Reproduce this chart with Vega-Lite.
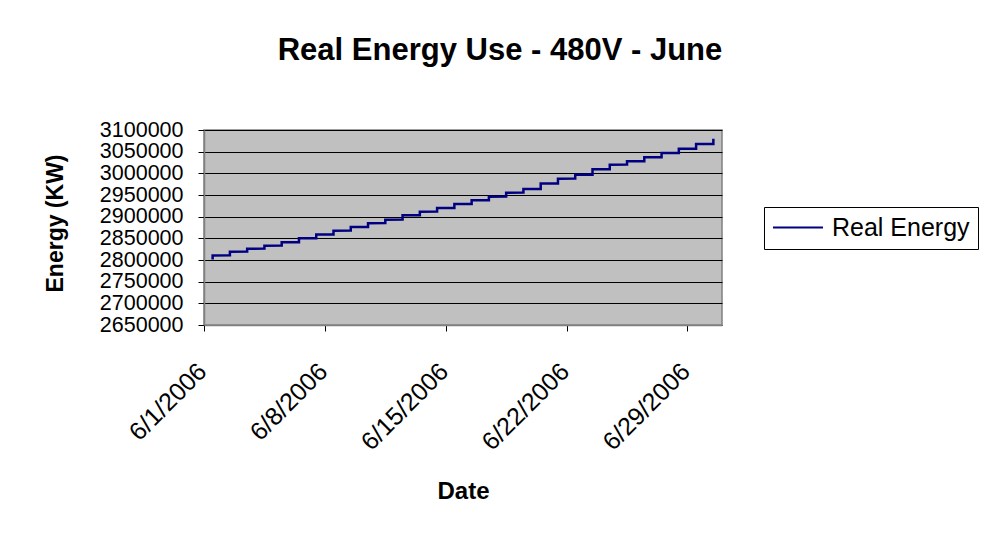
{
  "$schema": "https://vega.github.io/schema/vega-lite/v6.json",
  "width": 518,
  "height": 195,
  "autosize": {"type": "none"},
  "padding": {"left": 204, "top": 130, "right": 278, "bottom": 221},
  "background": "white",
  "title": {
    "text": "Real Energy Use - 480V - June",
    "frame": "group",
    "anchor": "middle",
    "dx": 37,
    "offset": 28,
    "baseline": "alphabetic",
    "font": "Liberation Sans",
    "fontSize": 31,
    "fontWeight": "bold",
    "color": "black"
  },
  "data": {
    "values": [
      {"date": "2006-06-01", "energy": 2801400},
      {"date": "2006-06-01", "energy": 2810600},
      {"date": "2006-06-02", "energy": 2810800},
      {"date": "2006-06-02", "energy": 2819200},
      {"date": "2006-06-03", "energy": 2819400},
      {"date": "2006-06-03", "energy": 2826100},
      {"date": "2006-06-04", "energy": 2826300},
      {"date": "2006-06-04", "energy": 2833000},
      {"date": "2006-06-05", "energy": 2833200},
      {"date": "2006-06-05", "energy": 2840800},
      {"date": "2006-06-06", "energy": 2841000},
      {"date": "2006-06-06", "energy": 2850100},
      {"date": "2006-06-07", "energy": 2850300},
      {"date": "2006-06-07", "energy": 2858600},
      {"date": "2006-06-08", "energy": 2858800},
      {"date": "2006-06-08", "energy": 2867600},
      {"date": "2006-06-09", "energy": 2867800},
      {"date": "2006-06-09", "energy": 2876200},
      {"date": "2006-06-10", "energy": 2876400},
      {"date": "2006-06-10", "energy": 2884900},
      {"date": "2006-06-11", "energy": 2885100},
      {"date": "2006-06-11", "energy": 2893000},
      {"date": "2006-06-12", "energy": 2893200},
      {"date": "2006-06-12", "energy": 2903200},
      {"date": "2006-06-13", "energy": 2903400},
      {"date": "2006-06-13", "energy": 2911500},
      {"date": "2006-06-14", "energy": 2911700},
      {"date": "2006-06-14", "energy": 2920000},
      {"date": "2006-06-15", "energy": 2920200},
      {"date": "2006-06-15", "energy": 2929200},
      {"date": "2006-06-16", "energy": 2929400},
      {"date": "2006-06-16", "energy": 2937800},
      {"date": "2006-06-17", "energy": 2938000},
      {"date": "2006-06-17", "energy": 2946100},
      {"date": "2006-06-18", "energy": 2946300},
      {"date": "2006-06-18", "energy": 2955300},
      {"date": "2006-06-19", "energy": 2955500},
      {"date": "2006-06-19", "energy": 2963800},
      {"date": "2006-06-20", "energy": 2964000},
      {"date": "2006-06-20", "energy": 2976500},
      {"date": "2006-06-21", "energy": 2976700},
      {"date": "2006-06-21", "energy": 2987600},
      {"date": "2006-06-22", "energy": 2987800},
      {"date": "2006-06-22", "energy": 2996800},
      {"date": "2006-06-23", "energy": 2997000},
      {"date": "2006-06-23", "energy": 3009300},
      {"date": "2006-06-24", "energy": 3009500},
      {"date": "2006-06-24", "energy": 3019900},
      {"date": "2006-06-25", "energy": 3020100},
      {"date": "2006-06-25", "energy": 3027800},
      {"date": "2006-06-26", "energy": 3028000},
      {"date": "2006-06-26", "energy": 3037000},
      {"date": "2006-06-27", "energy": 3037200},
      {"date": "2006-06-27", "energy": 3046900},
      {"date": "2006-06-28", "energy": 3047100},
      {"date": "2006-06-28", "energy": 3056800},
      {"date": "2006-06-29", "energy": 3057000},
      {"date": "2006-06-29", "energy": 3067700},
      {"date": "2006-06-30", "energy": 3067900},
      {"date": "2006-06-30", "energy": 3079900}
    ]
  },
  "mark": {"type": "line", "strokeWidth": 2.5, "clip": true},
  "encoding": {
    "x": {
      "field": "date",
      "type": "temporal",
      "timeUnit": "utcyearmonthdate",
      "bandPosition": 0.5,
      "scale": {
        "type": "utc",
        "domain": [
          {"year": 2006, "month": 6, "date": 1, "utc": true},
          {"year": 2006, "month": 7, "date": 1, "utc": true}
        ],
        "nice": false
      },
      "axis": {
        "title": "Date",
        "titleFont": "Liberation Sans",
        "titleFontSize": 24,
        "titleFontWeight": "bold",
        "titleColor": "black",
        "titleBaseline": "alphabetic",
        "titleY": 173,
        "values": [
          {"year": 2006, "month": 6, "date": 1, "utc": true},
          {"year": 2006, "month": 6, "date": 8, "utc": true},
          {"year": 2006, "month": 6, "date": 15, "utc": true},
          {"year": 2006, "month": 6, "date": 22, "utc": true},
          {"year": 2006, "month": 6, "date": 29, "utc": true}
        ],
        "labelExpr": "utcFormat(datum.value, '%-m/%-d/%Y')",
        "labelAngle": -45,
        "labelAlign": "right",
        "labelBaseline": "middle",
        "labelPadding": 36,
        "labelOffset": -2,
        "labelFont": "Liberation Sans",
        "labelFontSize": 25,
        "labelColor": "black",
        "labelOverlap": false,
        "labelFlush": false,
        "tickColor": "black",
        "tickSize": 6,
        "domainColor": "#808080",
        "domainWidth": 1.5,
        "grid": false
      }
    },
    "y": {
      "field": "energy",
      "type": "quantitative",
      "scale": {"domain": [2650000, 3100000], "nice": false, "zero": false},
      "axis": {
        "title": "Energy (KW)",
        "titleFont": "Liberation Sans",
        "titleFontSize": 23,
        "titleFontWeight": "bold",
        "titleColor": "black",
        "titleBaseline": "alphabetic",
        "titleX": -142,
        "titleY": 93,
        "values": [2650000, 2700000, 2750000, 2800000, 2850000, 2900000, 2950000, 3000000, 3050000, 3100000],
        "format": "d",
        "labelFont": "Liberation Sans",
        "labelFontSize": 21.5,
        "labelColor": "black",
        "labelPadding": 15,
        "labelOverlap": false,
        "labelFlush": false,
        "tickColor": "black",
        "tickSize": 6,
        "domainColor": "#808080",
        "domainWidth": 1.5,
        "grid": true,
        "gridColor": "black",
        "gridOpacity": 1,
        "gridWidth": 1
      }
    },
    "color": {
      "datum": "Real Energy",
      "type": "nominal",
      "scale": {"range": ["#000080"]},
      "legend": {
        "title": null,
        "orient": "none",
        "legendX": 560,
        "legendY": 77,
        "symbolType": "stroke",
        "symbolSize": 2500,
        "symbolStrokeWidth": 2,
        "clipHeight": 25,
        "labelFont": "Liberation Sans",
        "labelFontSize": 25,
        "labelColor": "black",
        "labelOffset": 8,
        "padding": 8,
        "strokeColor": "black",
        "fillColor": "white",
        "cornerRadius": 0
      }
    },
    "order": {"field": "energy", "type": "quantitative"}
  },
  "config": {
    "view": {"fill": "#C0C0C0", "stroke": "#808080", "strokeWidth": 1.5}
  }
}
